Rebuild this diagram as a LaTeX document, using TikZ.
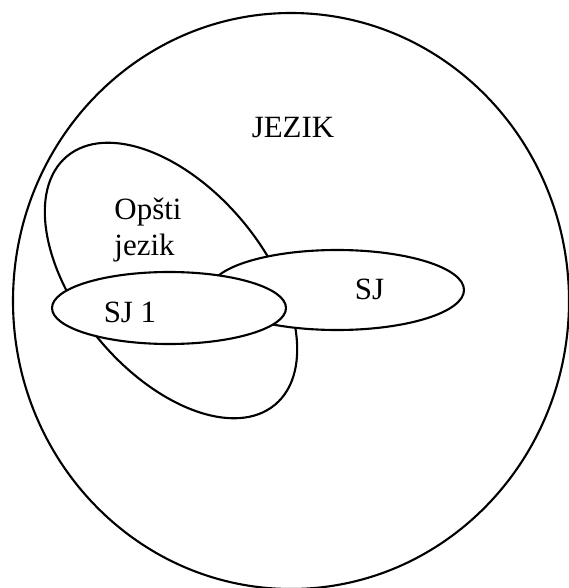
\documentclass[tikz,border=0pt]{standalone}
\usepackage{fontspec}
\setmainfont{Liberation Serif}

\begin{document}
\begin{tikzpicture}[> = latex, set/.style = {draw, fill = white, line width = 1.2 pt}, setname/.style = {font = \fontsize{17.6}{21}\selectfont}]

	\useasboundingbox (0, 0) rectangle (11.36, -11.76);

	\draw [set] (5.82, -6.02) ellipse [x radius = 5.56, y radius = 5.76];
	\node [setname] (jezik) at (5.86, -2.56) {JEZIK};
	
	\draw [set, shift = {(3.42, -5.61)}, rotate = -50] (0, 0) ellipse [x radius = 3.24, y radius = 1.86];
	\node [setname, align = left] (opsti) at (2.96, -4.6) {Opšti\\jezik};
	
	\draw [set] (6.74, -5.8) ellipse [x radius = 2.54, y radius = 0.8];
	\node [setname] (sj) at (7.39, -5.79) {SJ};
	
	\draw [set] (3.38, -6.16) ellipse [x radius = 2.34, y radius = 0.72];
	\node [setname] (sj1) at (2.6, -6.24) {SJ 1};

\end{tikzpicture}
\end{document}
